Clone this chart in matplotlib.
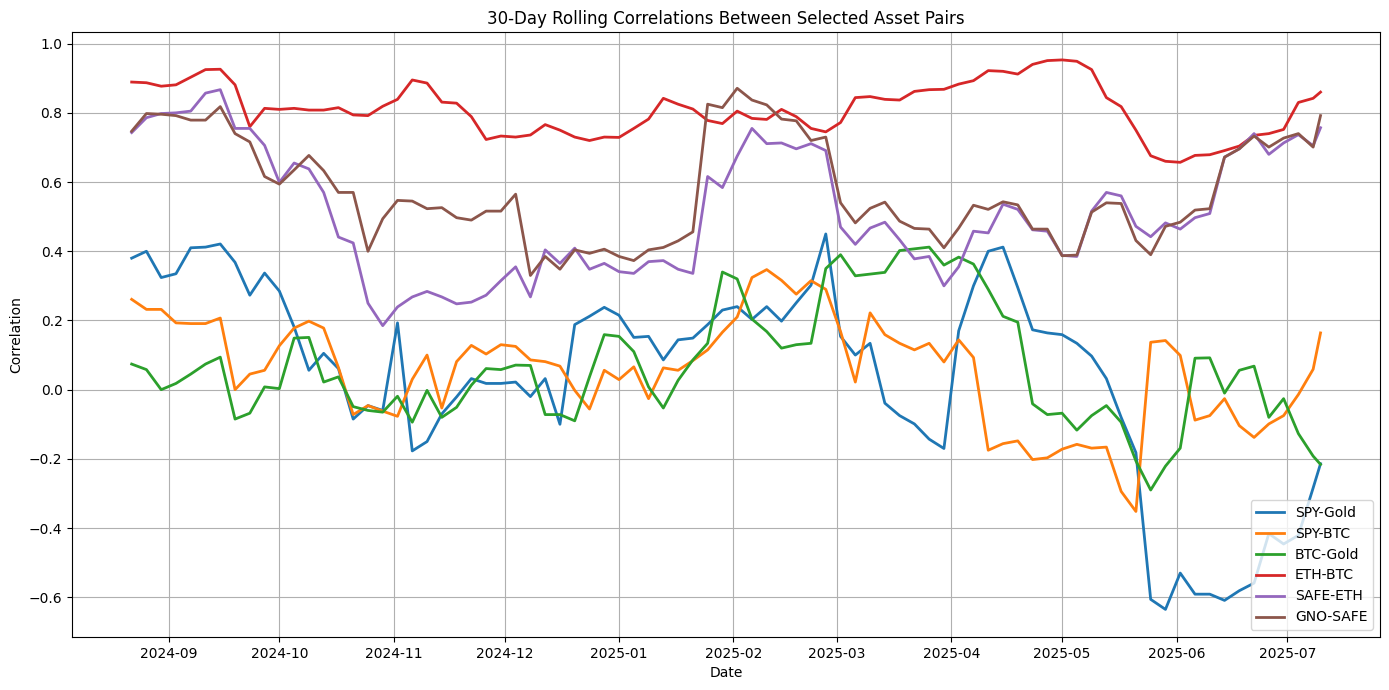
import matplotlib
matplotlib.use("Agg")
import matplotlib.pyplot as plt
import pandas as pd

# Sample dates (every 4 days) plus the last day
dates = pd.date_range("2024-08-22", periods=81, freq="4D").append(pd.DatetimeIndex(["2025-07-10"]))

spy_gold = [0.38, 0.40, 0.324, 0.335, 0.41, 0.412, 0.421, 0.368, 0.273, 0.337, 0.285, 0.181, 0.056, 0.105,
            0.061, -0.085, -0.046, -0.06, 0.193, -0.177, -0.15, -0.07, -0.021, 0.032, 0.018, 0.018, 0.022, -0.02,
            0.032, -0.10, 0.188, 0.212, 0.238, 0.215, 0.151, 0.154, 0.086, 0.144, 0.149, 0.188, 0.23, 0.24,
            0.203, 0.24, 0.198, 0.251, 0.302, 0.45, 0.154, 0.10, 0.134, -0.039, -0.075, -0.099, -0.143, -0.17,
            0.17, 0.30, 0.40, 0.412, 0.295, 0.173, 0.164, 0.159, 0.134, 0.097, 0.032, -0.08, -0.182, -0.606,
            -0.635, -0.53, -0.591, -0.591, -0.609, -0.581, -0.559, -0.416, -0.446, -0.421, -0.284, -0.214]

spy_btc = [0.261, 0.232, 0.232, 0.193, 0.191, 0.191, 0.207, 0.0, 0.045, 0.056, 0.127, 0.178, 0.198, 0.178,
           0.064, -0.072, -0.046, -0.062, -0.077, 0.03, 0.10, -0.053, 0.081, 0.128, 0.103, 0.13, 0.125, 0.086,
           0.081, 0.068, -0.002, -0.056, 0.056, 0.029, 0.066, -0.026, 0.063, 0.056, 0.084, 0.115, 0.166, 0.21,
           0.324, 0.347, 0.316, 0.276, 0.315, 0.29, 0.168, 0.022, 0.222, 0.159, 0.134, 0.115, 0.134, 0.08,
           0.144, 0.093, -0.175, -0.156, -0.148, -0.202, -0.197, -0.172, -0.158, -0.169, -0.166, -0.294, -0.352, 0.137,
           0.142, 0.099, -0.088, -0.075, -0.026, -0.104, -0.138, -0.099, -0.075, -0.014, 0.059, 0.164]

btc_gold = [0.074, 0.058, 0.0, 0.018, 0.045, 0.074, 0.094, -0.085, -0.068, 0.008, 0.003, 0.149, 0.151, 0.022,
            0.037, -0.049, -0.06, -0.065, -0.019, -0.094, -0.002, -0.08, -0.051, 0.013, 0.061, 0.058, 0.071, 0.07,
            -0.072, -0.072, -0.09, 0.037, 0.159, 0.154, 0.11, 0.008, -0.053, 0.027, 0.086, 0.134, 0.34, 0.32,
            0.204, 0.168, 0.12, 0.13, 0.134, 0.35, 0.39, 0.329, 0.334, 0.339, 0.402, 0.407, 0.412, 0.36,
            0.383, 0.363, 0.29, 0.212, 0.195, -0.041, -0.072, -0.068, -0.117, -0.075, -0.046, -0.094, -0.206, -0.29,
            -0.221, -0.169, 0.091, 0.092, -0.01, 0.056, 0.068, -0.08, -0.026, -0.127, -0.192, -0.216]

eth_btc = [0.889, 0.887, 0.877, 0.881, 0.903, 0.925, 0.926, 0.881, 0.76, 0.813, 0.81, 0.813, 0.808, 0.808,
           0.815, 0.794, 0.792, 0.819, 0.839, 0.895, 0.886, 0.831, 0.828, 0.789, 0.723, 0.733, 0.73, 0.736,
           0.766, 0.75, 0.73, 0.72, 0.73, 0.729, 0.755, 0.782, 0.842, 0.825, 0.811, 0.778, 0.769, 0.805,
           0.784, 0.781, 0.81, 0.789, 0.755, 0.745, 0.772, 0.844, 0.847, 0.839, 0.837, 0.862, 0.867, 0.868,
           0.883, 0.893, 0.922, 0.92, 0.912, 0.94, 0.951, 0.953, 0.949, 0.925, 0.844, 0.818, 0.75, 0.676,
           0.66, 0.657, 0.677, 0.679, 0.691, 0.704, 0.735, 0.74, 0.752, 0.83, 0.842, 0.86]

safe_eth = [0.743, 0.786, 0.798, 0.80, 0.805, 0.857, 0.867, 0.755, 0.755, 0.706, 0.599, 0.655, 0.638, 0.57,
            0.441, 0.424, 0.25, 0.185, 0.239, 0.268, 0.284, 0.268, 0.248, 0.253, 0.273, 0.315, 0.355, 0.268,
            0.404, 0.365, 0.409, 0.348, 0.365, 0.341, 0.336, 0.37, 0.373, 0.348, 0.336, 0.616, 0.584, 0.675,
            0.755, 0.711, 0.713, 0.696, 0.711, 0.691, 0.47, 0.42, 0.467, 0.484, 0.433, 0.378, 0.385, 0.30,
            0.355, 0.458, 0.453, 0.536, 0.521, 0.462, 0.458, 0.388, 0.385, 0.516, 0.57, 0.56, 0.472, 0.442,
            0.482, 0.464, 0.497, 0.509, 0.672, 0.696, 0.74, 0.68, 0.713, 0.737, 0.705, 0.757]

gno_safe = [0.747, 0.798, 0.796, 0.792, 0.779, 0.779, 0.818, 0.74, 0.716, 0.616, 0.594, 0.635, 0.677, 0.633,
            0.57, 0.57, 0.40, 0.494, 0.547, 0.545, 0.523, 0.526, 0.497, 0.49, 0.516, 0.516, 0.565, 0.33,
            0.385, 0.348, 0.404, 0.394, 0.406, 0.385, 0.373, 0.404, 0.411, 0.43, 0.456, 0.825, 0.815, 0.871,
            0.837, 0.823, 0.782, 0.777, 0.72, 0.73, 0.54, 0.482, 0.524, 0.542, 0.487, 0.466, 0.464, 0.41,
            0.467, 0.533, 0.521, 0.543, 0.534, 0.464, 0.464, 0.387, 0.389, 0.513, 0.54, 0.538, 0.431, 0.39,
            0.472, 0.484, 0.519, 0.523, 0.672, 0.696, 0.733, 0.701, 0.727, 0.74, 0.701, 0.792]

pairs = ["SPY-Gold", "SPY-BTC", "BTC-Gold", "ETH-BTC", "SAFE-ETH", "GNO-SAFE"]
series = [spy_gold, spy_btc, btc_gold, eth_btc, safe_eth, gno_safe]

plt.figure(figsize=(13.89, 6.9), dpi=100)
for name, vals in zip(pairs, series):
    plt.plot(dates, vals, label=name, linewidth=2)

plt.title("30-Day Rolling Correlations Between Selected Asset Pairs")
plt.xlabel("Date")
plt.ylabel("Correlation")
plt.legend(loc="lower right")
plt.grid(True)
plt.subplots_adjust(left=0.052, right=0.9935, top=0.953, bottom=0.077)
plt.savefig("out.png")
